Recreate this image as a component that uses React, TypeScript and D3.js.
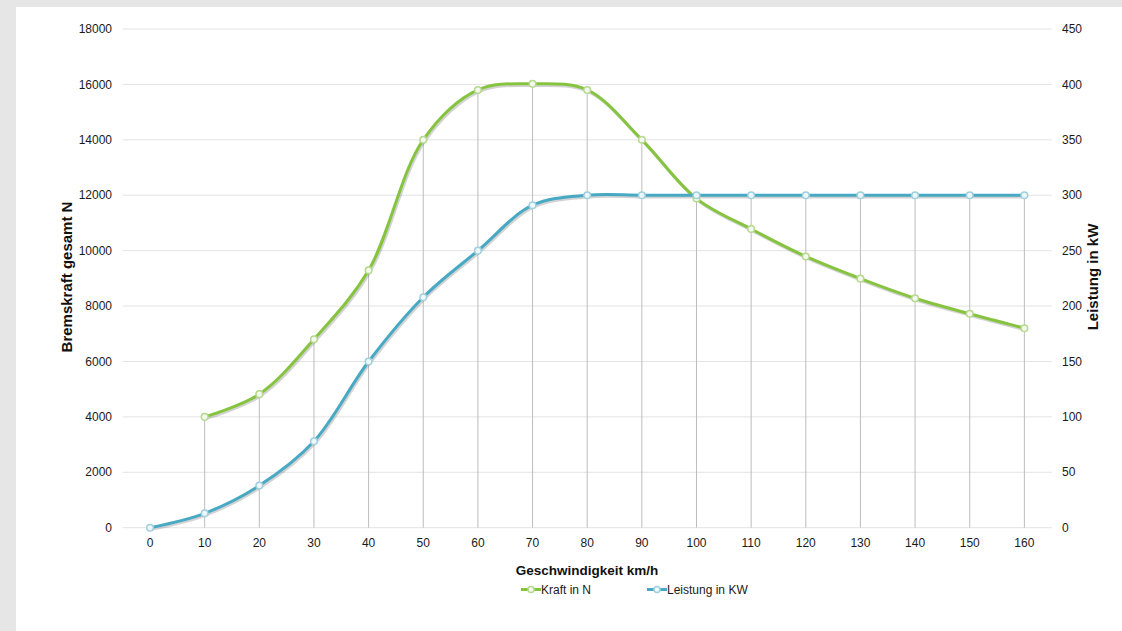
import React from "react";
import * as d3 from "d3";

const speeds = [0, 10, 20, 30, 40, 50, 60, 70, 80, 90, 100, 110, 120, 130, 140, 150, 160];
const kraft: (number | null)[] = [null, 4000, 4820, 6800, 9290, 14000, 15800, 16020, 15800, 14000, 11880, 10780, 9790, 8990, 8280, 7720, 7200];
const leistung = [0, 13, 38, 78, 150, 208, 250, 291, 300, 300, 300, 300, 300, 300, 300, 300, 300];
const leftTicks = [0, 2000, 4000, 6000, 8000, 10000, 12000, 14000, 16000, 18000];
const rightTicks = [0, 50, 100, 150, 200, 250, 300, 350, 400, 450];

const W = 1122;
const H = 631;
const GREEN = "#86c440";
const BLUE = "#47a9c4";
const FONT = "Liberation Sans, Arial, sans-serif";

export default function App() {
  const x = d3.scaleBand<number>().domain(speeds).range([122.7, 1051.7]);
  const cx = (v: number) => (x(v) as number) + x.bandwidth() / 2;
  const yL = d3.scaleLinear().domain([0, 18000]).range([527.7, 29]);
  const yR = d3.scaleLinear().domain([0, 450]).range([527.7, 29]);

  const curve = d3.curveCatmullRom.alpha(0.5);
  const kraftPts = speeds.map((s, i) => ({ s, v: kraft[i] })).filter((d) => d.v !== null) as { s: number; v: number }[];
  const leistPts = speeds.map((s, i) => ({ s, v: leistung[i] }));
  const lineK = d3.line<{ s: number; v: number }>().x((d) => cx(d.s)).y((d) => yL(d.v)).curve(curve);
  const lineP = d3.line<{ s: number; v: number }>().x((d) => cx(d.s)).y((d) => yR(d.v)).curve(curve);

  const drops = speeds.map((s, i) => {
    const k = kraft[i];
    const topK = k === null ? 527.7 : yL(k);
    const topP = yR(leistung[i]);
    return { s, top: Math.min(topK, topP) };
  }).filter((d) => d.top < 527);

  return (
    <div style={{ position: "fixed", left: 0, top: 0, width: W, height: H }}>
      <svg width={W} height={H} style={{ display: "block" }} fontFamily={FONT}>
        <rect x={0} y={0} width={W} height={H} fill="#e5e6e5" />
        <rect x={16} y={7} width={W - 16} height={H - 7} fill="#ffffff" />
        {leftTicks.map((t) => (
          <g key={t}>
            <line x1={122.7} x2={1051.7} y1={yL(t)} y2={yL(t)} stroke="#e3e3e3" strokeWidth={1} />
            <text x={112} y={yL(t)} dy="0.35em" textAnchor="end" fontSize={12} fill="#1a1a1a">{t}</text>
          </g>
        ))}
        {rightTicks.map((t) => (
          <text key={t} x={1062} y={yR(t)} dy="0.35em" textAnchor="start" fontSize={12} fill="#1a1a1a">{t}</text>
        ))}
        {speeds.map((s) => (
          <text key={s} x={cx(s)} y={543} dy="0.35em" textAnchor="middle" fontSize={12} fill="#1a1a1a">{s}</text>
        ))}
        {drops.map((d) => (
          <line key={d.s} x1={cx(d.s)} x2={cx(d.s)} y1={d.top} y2={527.7} stroke="#bdbdbd" strokeWidth={1} />
        ))}
        <g transform="translate(1.2,1.6)" opacity={0.25}>
          <path d={lineK(kraftPts) || ""} fill="none" stroke="#555" strokeWidth={3.2} />
          <path d={lineP(leistPts) || ""} fill="none" stroke="#555" strokeWidth={3.2} />
        </g>
        <path d={lineK(kraftPts) || ""} fill="none" stroke={GREEN} strokeWidth={3} />
        <path d={lineP(leistPts) || ""} fill="none" stroke={BLUE} strokeWidth={3} />
        {kraftPts.map((d) => (
          <circle key={"k" + d.s} cx={cx(d.s)} cy={yL(d.v)} r={3.3} fill="#f4f8ee" stroke="#b5d98d" strokeWidth={1.5} />
        ))}
        {leistPts.map((d) => (
          <circle key={"p" + d.s} cx={cx(d.s)} cy={yR(d.v)} r={3.3} fill="#eef7fa" stroke="#9fd0de" strokeWidth={1.5} />
        ))}
        <text x={587} y={570} dy="0.35em" textAnchor="middle" fontSize={13.5} fontWeight="bold" fill="#111">Geschwindigkeit km/h</text>
        <text transform="translate(67,277) rotate(-90)" dy="0.35em" textAnchor="middle" fontSize={15} fontWeight="bold" fill="#111">Bremskraft gesamt N</text>
        <text transform="translate(1093,277) rotate(-90)" dy="0.35em" textAnchor="middle" fontSize={15} fontWeight="bold" fill="#111">Leistung in kW</text>
        <g>
          <line x1={521} x2={541} y1={589.5} y2={589.5} stroke={GREEN} strokeWidth={3} />
          <circle cx={531} cy={589.5} r={3} fill="#f4f8ee" stroke="#b5d98d" strokeWidth={1.5} />
          <text x={541} y={589.5} dy="0.35em" fontSize={12} fill="#1a1a1a">Kraft in N</text>
          <line x1={647} x2={667} y1={589.5} y2={589.5} stroke={BLUE} strokeWidth={3} />
          <circle cx={657} cy={589.5} r={3} fill="#eef7fa" stroke="#9fd0de" strokeWidth={1.5} />
          <text x={667} y={589.5} dy="0.35em" fontSize={12} fill="#1a1a1a">Leistung in KW</text>
        </g>
      </svg>
    </div>
  );
}
